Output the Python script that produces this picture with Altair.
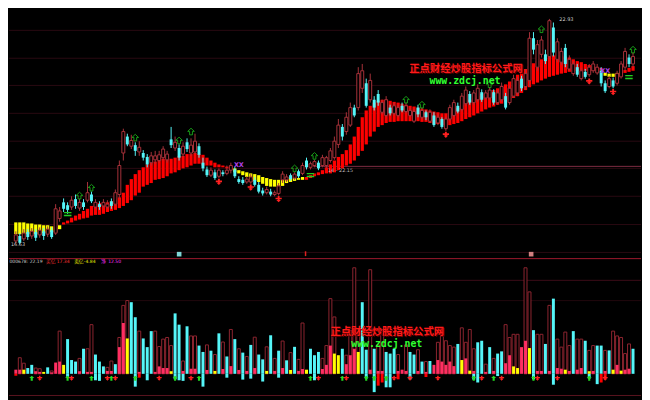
import altair as alt
import pandas as pd

# ---------------- candles (price) ----------------
c_open = [16.72, 16.86, 16.78, 16.97, 16.86, 16.97, 16.89, 16.99, 16.91, 17.02,
          16.94, 17.35, 17.80, 17.72, 17.67, 17.89, 17.64, 17.80, 17.86, 18.02,
          17.67, 17.75, 17.70, 17.67, 17.83, 17.75, 18.02, 19.18, 19.64, 19.37,
          19.40, 19.21, 19.18, 19.07, 18.91, 18.99, 18.97, 19.05, 18.99, 19.56,
          19.32, 19.32, 19.15, 19.48, 19.18, 19.21, 19.37, 18.91, 18.72, 18.56,
          18.64, 18.53, 18.64, 18.61, 18.70, 18.72, 18.45, 18.43, 18.37, 18.37,
          18.43, 18.29, 18.13, 18.07, 18.10, 18.02, 18.05, 18.43, 18.43, 18.56,
          18.48, 18.67, 18.61, 18.97, 18.78, 18.83, 18.91, 18.83, 18.83, 18.97,
          19.05, 19.42, 19.91, 19.78, 19.96, 20.45, 20.45, 20.99, 21.13, 20.67,
          20.67, 20.83, 20.32, 20.23, 20.45, 20.29, 20.23, 20.50, 20.34, 20.23,
          20.07, 20.45, 20.18, 20.32, 20.07, 20.23, 20.02, 20.13, 19.86, 20.13,
          20.23, 20.50, 20.40, 20.56, 20.83, 20.59, 20.67, 20.88, 20.72, 20.72,
          20.88, 20.59, 20.67, 20.77, 20.59, 20.77, 20.86, 21.26, 21.04, 21.21,
          22.39, 21.58, 21.94, 21.94, 21.88, 22.69, 21.80, 21.72, 22.12, 21.53,
          21.40, 21.58, 21.26, 21.45, 21.37, 21.48, 21.42, 21.48, 21.13, 21.04,
          21.21, 21.13, 21.31, 21.58, 21.85, 21.67]
c_high = [16.99, 16.94, 17.05, 17.05, 17.08, 17.05, 17.10, 17.08, 17.13, 17.10,
          17.75, 17.67, 17.91, 17.80, 17.97, 18.02, 17.89, 17.89, 18.37, 18.10,
          17.89, 17.83, 17.89, 17.86, 17.91, 18.16, 18.97, 19.86, 19.72, 19.69,
          19.48, 19.51, 19.26, 19.15, 19.21, 19.24, 19.24, 19.37, 19.24, 19.91,
          19.64, 19.42, 19.48, 19.59, 19.59, 19.72, 19.45, 19.05, 18.80, 18.78,
          18.72, 18.75, 18.70, 18.83, 18.91, 18.80, 18.53, 18.51, 18.53, 18.59,
          18.51, 18.37, 18.21, 18.24, 18.18, 18.13, 18.34, 18.67, 18.59, 18.61,
          18.64, 18.72, 18.91, 19.05, 18.94, 18.99, 18.97, 19.13, 19.10, 19.32,
          19.64, 20.13, 19.99, 20.32, 20.59, 20.53, 21.58, 21.67, 21.26, 21.40,
          20.77, 20.94, 20.67, 20.77, 20.53, 20.59, 20.53, 20.59, 20.59, 20.45,
          20.42, 20.53, 20.45, 20.37, 20.40, 20.32, 20.26, 20.18, 20.18, 20.53,
          20.67, 20.59, 20.86, 21.04, 20.91, 20.94, 21.10, 20.96, 20.94, 21.02,
          20.96, 20.94, 21.15, 20.86, 21.07, 21.37, 21.31, 21.34, 21.53, 22.56,
          22.56, 22.34, 22.45, 22.07, 22.93, 22.83, 22.39, 22.12, 22.23, 21.91,
          21.75, 21.67, 21.56, 21.53, 21.67, 21.75, 21.67, 21.58, 21.21, 21.34,
          21.29, 21.48, 21.75, 22.12, 21.94, 21.99]
c_low = [16.62, 16.63, 16.72, 16.75, 16.78, 16.72, 16.81, 16.75, 16.83, 16.78,
         16.89, 17.26, 17.53, 17.48, 17.59, 17.62, 17.56, 17.59, 17.80, 17.78,
         17.62, 17.59, 17.64, 17.62, 17.62, 17.70, 17.89, 18.97, 19.37, 19.29,
         19.10, 19.10, 18.97, 18.78, 18.83, 18.88, 18.91, 18.97, 18.91, 19.32,
         19.24, 18.97, 19.07, 19.21, 19.10, 19.15, 19.05, 18.67, 18.51, 18.51,
         18.43, 18.48, 18.53, 18.56, 18.61, 18.48, 18.32, 18.29, 18.32, 18.32,
         18.24, 18.05, 17.99, 18.02, 17.97, 17.97, 17.99, 18.34, 18.37, 18.40,
         18.43, 18.48, 18.56, 18.72, 18.72, 18.78, 18.70, 18.78, 18.75, 18.91,
         18.99, 19.32, 19.53, 19.69, 19.91, 20.18, 20.37, 20.86, 20.45, 20.59,
         20.37, 20.50, 20.26, 20.18, 20.23, 20.23, 20.18, 20.32, 20.29, 20.18,
         20.02, 20.18, 20.13, 20.10, 20.02, 19.91, 19.96, 19.86, 19.80, 20.07,
         20.18, 20.29, 20.34, 20.50, 20.53, 20.53, 20.61, 20.61, 20.67, 20.67,
         20.53, 20.53, 20.61, 20.40, 20.53, 20.72, 20.77, 20.91, 20.94, 21.04,
         21.94, 21.48, 21.85, 21.67, 21.80, 21.88, 21.72, 21.64, 21.58, 21.48,
         21.34, 21.31, 21.21, 21.26, 21.31, 21.42, 21.37, 21.04, 20.86, 20.99,
         20.99, 21.07, 21.26, 21.48, 21.58, 21.58]
c_close = [16.89, 16.67, 16.94, 16.83, 16.99, 16.81, 17.02, 16.86, 17.05, 16.83,
           17.62, 17.56, 17.62, 17.59, 17.86, 17.70, 17.80, 17.67, 18.07, 17.83,
           17.80, 17.67, 17.80, 17.75, 17.70, 18.07, 18.83, 19.78, 19.42, 19.53,
           19.24, 19.34, 19.05, 18.86, 19.10, 19.10, 19.13, 19.29, 19.15, 19.40,
           19.48, 19.05, 19.37, 19.29, 19.40, 19.51, 19.13, 18.75, 18.56, 18.70,
           18.48, 18.70, 18.59, 18.70, 18.83, 18.53, 18.37, 18.34, 18.45, 18.51,
           18.29, 18.10, 18.05, 18.16, 18.02, 18.07, 18.26, 18.59, 18.51, 18.45,
           18.59, 18.53, 18.83, 18.78, 18.88, 18.94, 18.75, 19.05, 19.05, 19.24,
           19.51, 19.96, 19.64, 20.18, 20.45, 20.23, 21.40, 21.48, 20.50, 21.21,
           20.45, 20.59, 20.59, 20.67, 20.29, 20.50, 20.45, 20.37, 20.50, 20.37,
           20.34, 20.26, 20.37, 20.18, 20.32, 19.96, 20.18, 19.91, 20.13, 20.45,
           20.59, 20.34, 20.77, 20.94, 20.59, 20.86, 20.99, 20.67, 20.86, 20.94,
           20.59, 20.86, 21.04, 20.45, 20.99, 21.26, 21.21, 20.99, 21.40, 22.39,
           22.07, 22.21, 22.34, 21.75, 22.88, 21.99, 22.29, 22.02, 21.67, 21.80,
           21.67, 21.37, 21.48, 21.31, 21.58, 21.67, 21.58, 21.13, 20.91, 21.26,
           21.04, 21.40, 21.67, 22.02, 21.67, 21.88]

# ---------------- trend ribbon ----------------
rib_hi = [17.24, 17.24, 17.24, 17.21, 17.21, 17.18, 17.18, 17.16, 17.16, 17.13,
          17.10, 17.16, 17.24, 17.29, 17.37, 17.43, 17.48, 17.56, 17.62, 17.70,
          17.75, 17.78, 17.78, 17.80, 17.83, 17.89, 17.94, 18.07, 18.29, 18.45,
          18.59, 18.70, 18.78, 18.86, 18.91, 18.94, 18.99, 19.02, 18.99, 19.02,
          19.05, 19.10, 19.10, 19.15, 19.15, 19.18, 19.15, 19.13, 19.05, 18.97,
          18.91, 18.86, 18.83, 18.80, 18.78, 18.75, 18.70, 18.67, 18.64, 18.61,
          18.59, 18.56, 18.51, 18.48, 18.45, 18.43, 18.43, 18.43, 18.45, 18.48,
          18.48, 18.48, 18.51, 18.51, 18.56, 18.61, 18.64, 18.70, 18.78, 18.86,
          18.97, 19.07, 19.15, 19.26, 19.42, 19.64, 19.91, 20.18, 20.37, 20.50,
          20.59, 20.64, 20.67, 20.67, 20.64, 20.61, 20.59, 20.56, 20.53, 20.50,
          20.48, 20.45, 20.42, 20.40, 20.37, 20.34, 20.32, 20.29, 20.29, 20.32,
          20.37, 20.45, 20.53, 20.61, 20.67, 20.72, 20.77, 20.83, 20.86, 20.88,
          20.94, 20.99, 21.04, 21.10, 21.18, 21.26, 21.37, 21.45, 21.53, 21.61,
          21.69, 21.75, 21.80, 21.85, 21.88, 21.91, 21.91, 21.91, 21.88, 21.85,
          21.80, 21.75, 21.72, 21.67, 21.64, 21.61, 21.58, 21.56, 21.42, 21.40,
          21.40, 21.42, 21.45, 21.50, 21.56, 21.61]
rib_lo = [16.91, 16.91, 16.91, 16.91, 16.91, 16.91, 16.91, 16.94, 16.94, 16.97,
          16.97, 17.05, 17.18, 17.21, 17.24, 17.29, 17.32, 17.35, 17.37, 17.43,
          17.45, 17.45, 17.48, 17.53, 17.56, 17.59, 17.64, 17.70, 17.78, 17.86,
          17.99, 18.07, 18.24, 18.29, 18.34, 18.43, 18.45, 18.48, 18.53, 18.61,
          18.64, 18.70, 18.75, 18.78, 18.83, 18.88, 18.88, 18.83, 18.83, 18.83,
          18.78, 18.78, 18.78, 18.75, 18.72, 18.64, 18.61, 18.56, 18.51, 18.45,
          18.40, 18.37, 18.32, 18.26, 18.24, 18.24, 18.24, 18.26, 18.34, 18.37,
          18.40, 18.43, 18.43, 18.43, 18.48, 18.53, 18.56, 18.59, 18.61, 18.61,
          18.64, 18.70, 18.75, 18.83, 18.88, 18.97, 19.10, 19.24, 19.42, 19.64,
          19.78, 19.91, 19.96, 20.02, 20.05, 20.05, 20.07, 20.07, 20.07, 20.07,
          20.07, 20.07, 20.05, 20.05, 20.02, 19.99, 19.99, 19.96, 19.96, 19.96,
          19.99, 20.02, 20.07, 20.13, 20.18, 20.23, 20.29, 20.34, 20.40, 20.45,
          20.48, 20.53, 20.56, 20.61, 20.67, 20.72, 20.77, 20.86, 20.94, 21.02,
          21.10, 21.15, 21.21, 21.26, 21.31, 21.34, 21.37, 21.40, 21.42, 21.45,
          21.45, 21.48, 21.48, 21.48, 21.48, 21.48, 21.48, 21.48, 21.34, 21.31,
          21.31, 21.34, 21.37, 21.42, 21.45, 21.48]
rib_runs = [("Y", 12), ("R", 43), ("Y", 18), ("R", 75), ("Y", 5), ("R", 3)]

# signals on the price panel
up_top_i = [16, 19, 30, 41, 44, 70, 75, 98, 102, 119, 132, 155]
up_top_p = [17.99, 18.21, 19.61, 19.53, 19.78, 18.75, 19.10, 20.67, 20.53, 21.10, 22.64, 22.07]
dn_top_i = [51, 59, 66, 108, 144, 150]
dn_top_p = [18.37, 18.21, 17.89, 19.69, 21.18, 20.88]
eq_i = [13, 74, 154]
eq_p = [17.48, 18.56, 21.31]
xx_i = [56, 148]
xx_p = [18.83, 21.48]
grid_prices = [22.61, 21.83, 21.07, 20.29, 19.51, 18.75, 17.97, 17.18, 16.40]

# ---------------- money-flow panel ----------------
vol_total = [0.43, 1.67, 1.10, 0.60, 0.93, 0.60, 0.53, 0.20, 0.67, 0.30,
             1.17, 4.43, 0.93, 3.60, 1.43, 1.27, 1.60, 2.60, 2.60, 5.10,
             2.00, 1.27, 0.77, 0.67, 1.33, 1.00, 3.77, 7.10, 7.60, 7.43,
             5.87, 4.43, 3.67, 2.77, 4.43, 4.43, 2.83, 3.60, 3.77, 2.93,
             6.27, 5.10, 1.33, 4.93, 3.93, 3.93, 2.93, 2.27, 3.00, 2.40,
             2.00, 4.20, 3.30, 1.80, 4.60, 3.60, 2.60, 2.20, 1.80, 3.00,
             3.80, 2.00, 1.50, 2.80, 4.00, 1.60, 2.40, 3.40, 1.40, 2.20,
             2.80, 1.50, 5.27, 0.43, 2.60, 1.93, 2.27, 1.60, 2.93, 7.80,
             5.90, 1.93, 2.60, 1.93, 4.50, 11.00, 4.00, 7.43, 2.50, 10.80,
             2.60, 3.00, 4.60, 2.27, 2.10, 2.60, 2.00, 0.43, 3.00, 2.27,
             2.00, 2.50, 1.27, 1.27, 1.33, 0.93, 3.27, 3.93, 3.43, 2.93,
             2.77, 3.10, 4.77, 3.27, 4.60, 2.60, 3.27, 3.43, 1.00, 2.77,
             1.60, 2.10, 2.33, 5.10, 3.77, 4.10, 4.10, 2.77, 11.00, 8.50,
             4.53, 4.10, 4.10, 3.10, 7.10, 7.80, 3.60, 2.77, 4.33, 2.93,
             4.43, 3.60, 3.60, 3.43, 2.43, 2.93, 2.93, 2.93, 2.43, 2.43,
             4.43, 3.93, 3.77, 2.10, 3.10, 2.60]
vol_fill = [0.43, 0.43, 0.43, 0.60, 0.93, 0.27, 0.20, 0.20, 0.67, 0.15,
            1.17, 1.27, 0.93, 3.60, 1.43, 1.27, 0.27, 2.60, 0.20, 0.20,
            2.00, 1.27, 0.77, 0.30, 0.30, 1.00, 2.77, 5.27, 3.67, 7.43,
            5.87, 0.20, 3.67, 2.77, 4.43, 0.20, 0.77, 0.60, 0.60, 0.27,
            6.27, 5.10, 0.30, 4.93, 0.53, 0.53, 2.93, 2.27, 0.40, 2.40,
            0.30, 4.20, 0.50, 1.80, 0.80, 3.60, 0.40, 2.20, 0.30, 3.00,
            0.60, 2.00, 1.50, 0.30, 4.00, 0.30, 2.40, 0.60, 1.40, 0.40,
            2.80, 0.30, 0.50, 0.43, 2.60, 1.93, 2.27, 0.50, 0.93, 2.93,
            2.10, 1.93, 2.60, 1.00, 1.93, 2.60, 2.27, 7.43, 2.50, 0.43,
            2.60, 0.30, 0.30, 2.27, 2.10, 2.60, 0.30, 0.43, 0.30, 2.27,
            2.00, 0.30, 1.27, 0.20, 1.33, 0.93, 1.43, 1.27, 0.93, 1.27,
            0.80, 3.10, 1.43, 1.60, 0.33, 0.30, 3.27, 3.43, 0.20, 2.77,
            0.30, 2.10, 2.33, 1.10, 1.93, 0.77, 0.60, 2.77, 3.43, 2.67,
            4.53, 0.30, 0.30, 3.10, 0.30, 7.80, 0.60, 0.53, 0.43, 0.30,
            4.43, 0.43, 0.60, 3.43, 0.27, 0.30, 2.93, 2.93, 0.30, 2.43,
            0.43, 0.93, 0.33, 0.43, 0.53, 2.60]
vol_kind = list("ppyccppycp" "ppyccc" "pcpp" "cccppcppyc" "cpcccppppy" "ccpcppccpc"
                "ycpcpcpcpc" "pccycpcpcy" "cppyccc" "ppp" "yycpppyccp" "cppcccpppc"
                "cpcpcppppp" "pcypypccpc" "pccppyyppy" "cppcpcppyp" "cppcypccpc" "ypyppc")
vol_neg = [-0.20, 0, 0, 0, 0, 0, 0, 0, 0, 0,
           0, 0, 0, -0.30, 0, 0, 0, 0, 0, 0,
           -0.67, -0.73, 0, 0, 0, 0, 0, 0, 0, 0,
           -1.33, -0.40, 0, -0.67, 0, 0, 0, 0, 0, 0,
           -0.57, -0.67, -0.73, 0, 0, 0, 0, -1.33, 0, 0,
           0, 0, 0, -0.40, 0, 0, 0, -0.60, 0, -0.50,
           0, 0, -0.80, 0, 0, 0, -0.40, 0, 0, 0,
           0, 0, 0, 0, 0, -0.67, 0, 0, 0, 0,
           0, 0, 0, 0, 0, 0, 0, 0, -0.50, 0,
           -1.90, -1.23, -0.90, -1.40, -1.40, 0, -0.57, 0, 0, -0.57,
           0, 0, 0, -0.33, 0, 0, 0, 0, 0, 0,
           0, 0, 0, 0, 0, -0.60, -0.90, 0, 0, 0,
           0, -0.23, 0, 0, 0, 0, 0, 0, 0, 0,
           -0.57, 0, 0, 0, 0, -1.13, 0, 0, 0, 0,
           0, 0, 0, 0, -0.50, 0, -1.07, -0.90, -0.57, 0,
           0, 0, 0, 0, 0, 0]
red_neg_idx = [0, 31, 91, 92, 96, 103, 147, 148]
up_bot_i = [4, 13, 19, 24, 30, 40, 46, 74, 82, 88, 90, 93, 115, 120, 130, 144]
dn_bot_i = [6, 14, 23, 25, 36, 44, 76, 83, 95, 99, 106, 117, 122, 131, 136, 148]

# ---------------- tables ----------------
N = len(c_open)
rib_col = [k for k, n in rib_runs for _ in range(n)]
df = pd.DataFrame({
    "i": list(range(N)), "o": c_open, "h": c_high, "l": c_low, "c": c_close,
    "rh": rib_hi, "rl": rib_lo, "rc": rib_col,
    "tot": vol_total, "fill": vol_fill, "kind": vol_kind, "neg": vol_neg,
})
df["dir"] = ["U" if c >= o else "D" for o, c in zip(c_open, c_close)]
df["nk"] = ["r" if k in red_neg_idx else "c" for k in range(N)]
df["zero"] = 0.0

sig_top = pd.DataFrame({"i": up_top_i + dn_top_i, "p": up_top_p + dn_top_p,
                        "k": ["u"] * len(up_top_i) + ["d"] * len(dn_top_i)})
eq_df = pd.DataFrame({"i": eq_i, "p": eq_p})
xx_df = pd.DataFrame({"i": xx_i, "p": xx_p})
grid_df = pd.DataFrame({"p": grid_prices})
sig_bot = pd.DataFrame({"i": up_bot_i + dn_bot_i,
                        "k": ["u"] * len(up_bot_i) + ["d"] * len(dn_bot_i)})
one = pd.DataFrame({"k": [0]})

# ---------------- layout ----------------
W, HT, HB = 642, 251, 141
SX, SY = 642 / 650, 0.98
HOL = "#a8323a"
HOLB = "#8e2530"
CY = "#55f5f8"
UP_ARROW = "M0,-1L1,-0.05L0.42,-0.05L0.42,1L-0.42,1L-0.42,-0.05L-1,-0.05Z"
DN_ARROW = "M-0.3,-1L0.3,-1L0.3,-0.45L1,-0.45L1,0.05L0.3,0.05L0.3,0.25L0.75,0.25L0,1L-0.75,0.25L-0.3,0.25L-0.3,0.05L-1,0.05L-1,-0.45L-0.3,-0.45Z"

xs = alt.Scale(domain=[-0.48, 155.77], nice=False, zero=False)
yt = alt.Scale(domain=[16.24, 23.15], nice=False, zero=False)
yb = alt.Scale(domain=[-2.4, 12.0], nice=False, zero=False)
X = alt.X("i:Q", scale=xs, axis=None)


def Yt(f):
    return alt.Y(f, scale=yt, axis=None)


def Yb(f):
    return alt.Y(f, scale=yb, axis=None)


def txt(s, x, y, color, size=5.0, font="DejaVu Sans", weight="normal", align="left"):
    return alt.Chart(one).mark_text(text=s, color=color, fontSize=size, font=font,
                                    fontWeight=weight, align=align, baseline="middle").encode(
        x=alt.value(x), y=alt.value(y))


def hline(y, color, x1=0, x2=W, dash=None):
    kw = {"color": color, "strokeWidth": 1}
    if dash:
        kw["strokeDash"] = dash
    return alt.Chart(one).mark_rule(**kw).encode(
        x=alt.value(x1), x2=alt.value(x2), y=alt.value(y))


bt = alt.Chart(df)
grid_top = alt.Chart(grid_df).mark_rule(color="#2a0911", strokeWidth=1).encode(y=Yt("p:Q"))
rib_r = bt.transform_filter("datum.rc == 'R'").mark_bar(size=3.3, color="#ff0000").encode(
    x=X, y=Yt("rh:Q"), y2="rl:Q")
rib_y = bt.transform_filter("datum.rc == 'Y'").mark_bar(size=3.3, color="#ffff00").encode(
    x=X, y=Yt("rh:Q"), y2="rl:Q")
wick_u = bt.transform_filter("datum.dir == 'U'").mark_rule(color=HOL, strokeWidth=1).encode(
    x=X, y=Yt("h:Q"), y2="l:Q")
wick_d = bt.transform_filter("datum.dir == 'D'").mark_rule(color=CY, strokeWidth=1).encode(
    x=X, y=Yt("h:Q"), y2="l:Q")
body_u = bt.transform_filter("datum.dir == 'U'").mark_bar(
    size=3, fill="#000000", stroke=HOL, strokeWidth=1).encode(x=X, y=Yt("o:Q"), y2="c:Q")
body_d = bt.transform_filter("datum.dir == 'D'").mark_bar(size=3, color=CY).encode(
    x=X, y=Yt("o:Q"), y2="c:Q")
arr_u = alt.Chart(sig_top).transform_filter("datum.k == 'u'").mark_point(
    shape=UP_ARROW, filled=False, color="#22dd22", strokeWidth=1, size=45).encode(x=X, y=Yt("p:Q"))
arr_d = alt.Chart(sig_top).transform_filter("datum.k == 'd'").mark_point(
    shape=DN_ARROW, filled=True, color="#ff2020", opacity=1, size=40).encode(x=X, y=Yt("p:Q"))
eq_m = alt.Chart(eq_df).mark_text(text="=", color="#22cc22", fontSize=12, fontWeight="bold",
                                  font="DejaVu Sans").encode(x=X, y=Yt("p:Q"))
xx_m = alt.Chart(xx_df).mark_text(text="XX", color="#b040e8", fontSize=6.5, fontWeight="bold",
                                  font="DejaVu Sans").encode(x=X, y=Yt("p:Q"))

price_line = hline(161 * SY, "#7e2c42", x1=313 * SX, x2=W)

top = alt.layer(
    grid_top, price_line, rib_r, rib_y, wick_u, wick_d, body_u, body_d, arr_u, arr_d, eq_m, xx_m,
    txt("16.63", 2, 241 * SY, "#d0d0d0"),
    txt("22.93", 566 * SX, 8 * SY, "#d0d0d0"),
    txt("14 - 22.15", 328 * SX, 165 * SY, "#b8b8b8"),
    txt("正点财经炒股指标公式网", 471 * SX, 61 * SY, "#5a0000", size=10.5,
        font="Noto Sans CJK SC", weight="bold", align="center"),
    txt("正点财经炒股指标公式网", 470 * SX, 60 * SY, "#ff1a1a", size=10.5,
        font="Noto Sans CJK SC", weight="bold", align="center"),
    txt("www.zdcj.net", 469 * SX, 73 * SY, "#30ff30", size=10,
        font="DejaVu Sans Mono", weight="bold", align="center"),
    alt.Chart(one).mark_square(color="#7fd6d6", size=22, opacity=1).encode(
        x=alt.value(175 * SX), y=alt.value(252 * SY)),
    alt.Chart(one).mark_rule(color="#e02020", strokeWidth=1.5).encode(
        x=alt.value(305 * SX), y=alt.value(249 * SY), y2=alt.value(254 * SY)),
    alt.Chart(one).mark_square(color="#d08080", size=22, opacity=1).encode(
        x=alt.value(537 * SX), y=alt.value(252 * SY)),
).properties(width=W, height=HT)

bb = alt.Chart(df)
hollow = bb.transform_filter("datum.tot > datum.fill").mark_bar(
    size=3, fill="#000000", stroke=HOLB, strokeWidth=1).encode(x=X, y=Yb("tot:Q"), y2="zero:Q")
fills = []
for k, col in [("p", "#ff2e62"), ("y", "#ffff00"), ("c", CY)]:
    fills.append(bb.transform_filter(f"datum.kind == '{k}'").mark_bar(size=3, color=col).encode(
        x=X, y=Yb("fill:Q"), y2="zero:Q"))
negs = []
for k, col in [("r", "#ff0000"), ("c", CY)]:
    negs.append(bb.transform_filter(f"datum.neg < 0 && datum.nk == '{k}'").mark_bar(
        size=3, color=col).encode(x=X, y=Yb("neg:Q"), y2="zero:Q"))
yarr = (12.0 + 0.45) / 14.4 * HB
b_up = alt.Chart(sig_bot).transform_filter("datum.k == 'u'").mark_point(
    shape=UP_ARROW, filled=True, color="#22dd22", opacity=1, size=26).encode(x=X, y=alt.value(yarr))
b_dn = alt.Chart(sig_bot).transform_filter("datum.k == 'd'").mark_point(
    shape=DN_ARROW, filled=True, color="#ff2020", opacity=1, size=26).encode(x=X, y=alt.value(yarr))

hy = 3.6
bot = alt.layer(
    hline(0.5, "#a0182e"), hline((279 - 256) * SY, "#3c0c18"), hline((300 - 256) * SY, "#22070d"),
    hline(HB - 1.5, "#5a1420"),
    hollow, *fills, *negs, b_up, b_dn,
    txt("000678: 22.19", 0.5, hy, "#c8c8c8", size=4.6),
    txt("买亿", 38 * SX, hy, "#ff3030", size=4.8, font="Noto Sans CJK SC"),
    txt("17.34", 49 * SX, hy, "#ff3030", size=4.6),
    txt("卖亿", 67 * SX, hy, "#e8e800", size=4.8, font="Noto Sans CJK SC"),
    txt("-4.84", 77 * SX, hy, "#e8e800", size=4.6),
    txt("净", 95 * SX, hy, "#ff30ff", size=4.8, font="Noto Sans CJK SC"),
    txt("12.50", 102 * SX, hy, "#ff30ff", size=4.6),
    txt("正点财经炒股指标公式网", 390 * SX, (334 - 256) * SY, "#5a0000", size=10.5,
        font="Noto Sans CJK SC", weight="bold", align="center"),
    txt("正点财经炒股指标公式网", 389 * SX, (333 - 256) * SY, "#ff1a1a", size=10.5,
        font="Noto Sans CJK SC", weight="bold", align="center"),
    txt("www.zdcj.net", 388.5 * SX, (345 - 256) * SY, "#30ff30", size=10,
        font="DejaVu Sans Mono", weight="bold", align="center"),
).properties(width=W, height=HB)

chart = alt.vconcat(top, bot, spacing=0).properties(
    padding=0, background="#000000"
).configure_view(strokeWidth=0).configure_concat(spacing=0)

chart.save("out.html", embed_options={"renderer": "svg", "actions": False})
